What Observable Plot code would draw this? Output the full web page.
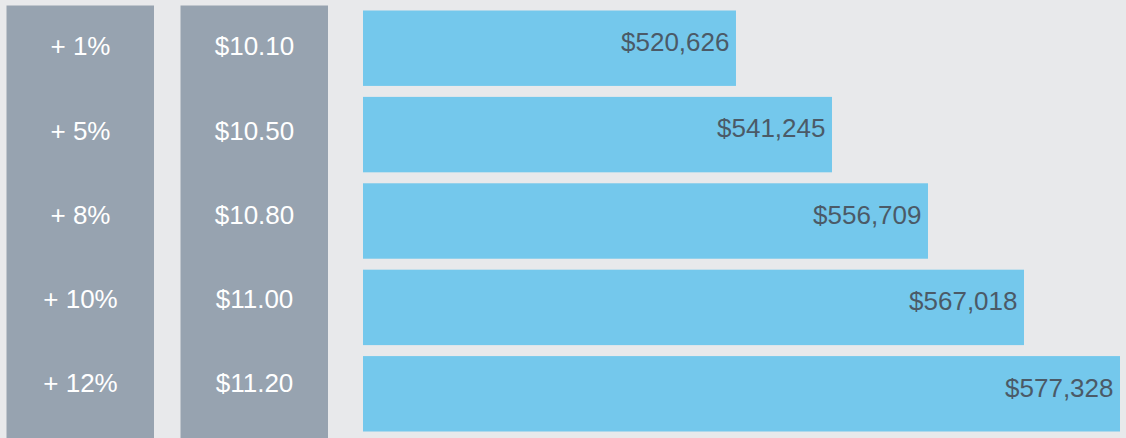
<!DOCTYPE html>
<html>
<head>
<meta charset="utf-8">
<script src="https://cdn.jsdelivr.net/npm/d3@7"></script>
<script src="https://cdn.jsdelivr.net/npm/@observablehq/plot@0.6"></script>
<style>
  html, body { margin: 0; padding: 0; background: #e8e9eb; }
  #wrap { position: relative; width: 1126px; height: 438px; overflow: hidden; background: #e8e9eb; }
  .panel { position: absolute; top: 0; }
  .panel svg { display: block; }
</style>
</head>
<body>
<div id="wrap">
  <div class="panel" id="c1" style="left:6px"></div>
  <div class="panel" id="c2" style="left:180px"></div>
  <div class="panel" id="c3" style="left:363px"></div>
</div>
<script>
// Data
const increases = ["+ 1%", "+ 5%", "+ 8%", "+ 10%", "+ 12%"];
const wages = [10.10, 10.50, 10.80, 11.00, 11.20];
const totals = [520626, 541245, 556709, 567018, 577328];
// bar lengths in the reference step evenly with each row (level 1..5)
const levels = [1, 2, 3, 4, 5];
const levelFloor = -2.885;

const rows = increases.map((p, i) => ({pct: p, wage: wages[i], total: totals[i], level: levels[i]}));

const FONT = "'Liberation Sans', Arial, Helvetica, sans-serif";
const H = 438, MT = 10.5, MB = 6.5;
const yOpts = {domain: increases, paddingInner: 0.127, paddingOuter: 0, round: false, axis: null};
const money2 = d3.format("$.2f");
const money0 = d3.format("$,.0f");

function column(text) {
  return Plot.plot({
    width: 148, height: H,
    marginTop: MT, marginBottom: MB, marginLeft: 0, marginRight: 0,
    style: {background: "transparent", fontFamily: FONT},
    x: {axis: null},
    y: yOpts,
    marks: [
      Plot.frame({fill: "#97a3b0", stroke: null, insetTop: -(MT - 5), insetBottom: -MB}),
      Plot.text(rows, {y: "pct", text, fill: "#ffffff", fontSize: 26, dy: -6})
    ]
  });
}

document.getElementById("c1").append(column(d => d.pct));
document.getElementById("c2").append(column(d => money2(d.wage)));

const bars = Plot.plot({
  width: 763, height: H,
  marginTop: MT, marginBottom: MB, marginLeft: 0, marginRight: 6,
  style: {background: "transparent", fontFamily: FONT},
  x: {type: "linear", domain: [levelFloor, 5], axis: null},
  y: yOpts,
  marks: [
    Plot.barX(rows, {x1: levelFloor, x2: "level", y: "pct", fill: "#74c8ec"}),
    Plot.text(rows, {x: "level", y: "pct", text: d => money0(d.total), textAnchor: "end",
      dx: -7, dy: -6, fill: "#4b5a67", fontSize: 26})
  ]
});
document.getElementById("c3").append(bars);
</script>
</body>
</html>
